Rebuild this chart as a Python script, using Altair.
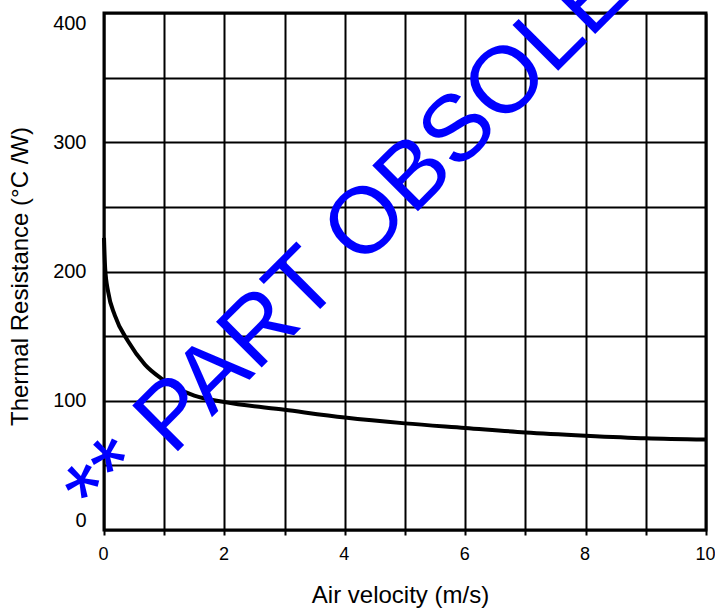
import altair as alt
import pandas as pd

# ---- data ----
velocity = [0, 0.02, 0.07, 0.18, 0.4, 0.68, 0.96, 1.5, 2, 3, 4, 5, 6, 7, 8, 9, 10]
resistance = [226, 202, 184, 166, 146, 128, 117, 104, 99, 93, 87, 82.5, 79, 75.5, 73, 71, 70]
x_grid = list(range(0, 11))
y_grid = list(range(0, 401, 50))
watermark_text = ["** PART OBSOLETE"]
watermark_x = [-0.03]
watermark_y = [2.3]

df = pd.DataFrame({"v": velocity, "r": resistance})
wm = pd.DataFrame({"t": watermark_text, "x": watermark_x, "y": watermark_y})

FONT = "Liberation Sans"

xscale = alt.Scale(domain=[0, 10], nice=False, zero=False)
yscale = alt.Scale(domain=[0, 400], nice=False)

xaxis = alt.Axis(
    values=x_grid, format="d",
    labelExpr="datum.value % 2 == 0 ? datum.label : ''",
    grid=True, gridColor="black", gridWidth=2, gridOpacity=1,
    ticks=True, tickSize=5, tickColor="black", tickWidth=2,
    domain=False,
    labelFont=FONT, labelFontSize=18, labelColor="black", labelPadding=10,
    labelFlush=False, labelOverlap=False, labelOffset=-1,
    title="Air velocity (m/s)", titleFont=FONT, titleFontSize=24,
    titleFontWeight="normal", titleColor="black",
    titleBaseline="alphabetic", titleX=296, titleY=72,
)
yaxis = alt.Axis(
    values=y_grid, format="d",
    labelExpr="datum.value % 100 == 0 ? datum.label : ''",
    grid=True, gridColor="black", gridWidth=2, gridOpacity=1,
    ticks=False, tickSize=0,
    domain=False,
    labelFont=FONT, labelFontSize=20, labelColor="black", labelPadding=18,
    labelFlush=True, labelOverlap=False,
    title="Thermal Resistance (°C /W)", titleFont=FONT, titleFontSize=24,
    titleFontWeight="normal", titleColor="black",
    titleBaseline="alphabetic", titleX=-77, titleY=263,
)

line = alt.Chart(df).mark_line(
    color="black", strokeWidth=4, interpolate="monotone"
).encode(
    x=alt.X("v:Q", scale=xscale, axis=xaxis),
    y=alt.Y("r:Q", scale=yscale, axis=yaxis),
)

mark = alt.Chart(wm).mark_text(
    font=FONT, fontSize=94, color="#0000FF", angle=315,
    align="left", baseline="alphabetic"
).encode(
    x=alt.X("x:Q", scale=xscale),
    y=alt.Y("y:Q", scale=yscale),
    text="t:N",
)

chart = alt.layer(line, mark).properties(
    width=602, height=517,
    autosize=alt.AutoSizeParams(type="none"),
    padding={"left": 104, "top": 13, "right": 9, "bottom": 80},
    background="white",
).configure_view(stroke="black", strokeWidth=3)

chart.save("out.html", embed_options={"renderer": "svg", "actions": False})
